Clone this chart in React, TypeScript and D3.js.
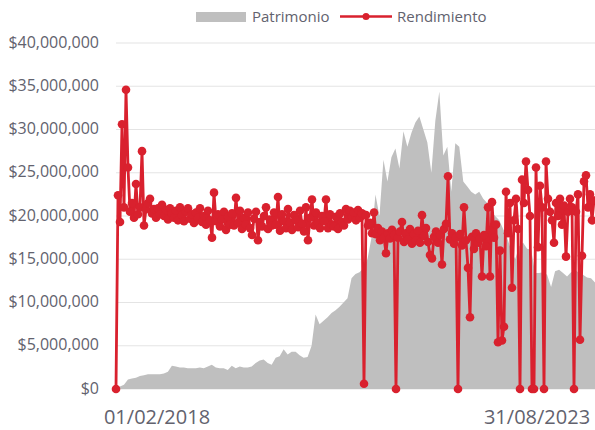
import React from 'react';
import * as d3 from 'd3';

const width = 595;
const height = 430;
const margin = { top: 43, right: 0, bottom: 41, left: 116 };
const red = '#d9212e';
const gray = '#bfbfbf';
const textColor = '#62626e';

// first / last dates of the series (category axis shows only these)
const dateLabels = ['01/02/2018', '31/08/2023'];
const yTicks = [0, 5, 10, 15, 20, 25, 30, 35, 40];

// Patrimonio, millions, evenly spaced samples
const patrimonio = [
  0.2, 0.3, 0.5, 1.1, 1.2, 1.3, 1.5, 1.6, 1.7, 1.7,
  1.7, 1.7, 1.8, 2.0, 2.7, 2.6, 2.5, 2.5, 2.4, 2.4,
  2.4, 2.5, 2.4, 2.6, 2.8, 2.5, 2.4, 2.4, 2.2, 2.7,
  2.4, 2.6, 2.5, 2.5, 2.6, 3.0, 3.3, 3.4, 3.0, 2.8,
  3.6, 3.8, 4.6, 4.0, 4.3, 4.3, 3.9, 3.6, 3.7, 5.0,
  8.6, 7.5, 7.9, 8.3, 8.8, 9.1, 9.5, 10.0, 10.5, 12.8,
  13.3, 13.5, 14.0, 15.0, 17.5, 22.5, 20.0, 26.5, 24.0, 26.8,
  27.8, 25.5, 29.8, 28.0, 29.6, 30.8, 31.5, 30.0, 28.5, 25.0,
  31.0, 34.4, 27.0, 28.0, 22.8, 28.4, 28.0, 24.0, 23.4, 22.8,
  22.5, 22.8, 22.0, 21.5, 20.5, 20.0, 19.5, 18.5, 17.5, 16.0,
  15.0, 16.5, 16.9, 16.2, 16.1, 13.4, 13.4, 13.5, 13.2, 11.8,
  13.6, 13.8, 13.4, 13.0, 13.5, 13.8, 13.4, 13.2, 12.9, 12.8,
  12.3,
];

// Rendimiento, drawn on the same scale, evenly spaced samples
const rendimiento = [
  0, 22.4, 19.3, 30.6, 21.0, 34.6, 25.6, 20.5, 21.5, 19.8,
  23.7, 20.2, 21.0, 27.5, 18.9, 20.8, 21.5, 22.0, 20.3, 20.8,
  19.8, 20.9, 20.2, 21.3, 20.0, 20.7, 19.6, 20.9, 20.3, 19.8,
  20.6, 19.5, 21.0, 20.1, 19.4, 20.5, 20.9, 19.7, 20.2, 19.2,
  20.4, 19.8, 20.9, 19.3, 20.0, 19.0, 20.6, 19.5, 17.5, 22.7,
  19.4, 20.2, 18.8, 19.6, 20.5, 18.4, 19.9, 19.0, 20.3, 18.9,
  22.1, 19.2, 20.6, 18.5, 19.8, 19.0, 20.4, 18.6, 17.8, 19.7,
  20.5, 17.2, 19.3, 18.8, 20.0, 21.0, 18.5, 19.6, 18.9, 20.4,
  19.0, 22.2, 18.3, 20.2, 19.4, 18.6, 20.8, 19.2, 18.4, 20.1,
  19.5, 18.7, 20.6, 19.1, 18.2, 21.0, 17.2, 19.8, 21.9, 18.9,
  20.4, 19.2, 18.6, 20.0, 19.4, 21.9, 18.6, 20.2, 19.0, 18.8,
  19.9, 18.5, 20.3, 19.3, 18.9, 20.8, 19.6, 20.6, 19.9, 20.4,
  19.5, 20.7, 19.8, 20.3, 0.6, 20.1, 18.9, 19.2, 18.0, 20.4,
  17.9, 18.6, 17.2, 18.2, 17.5, 15.7, 18.0, 17.4, 18.4, 17.8,
  0, 17.5, 18.2, 19.3, 17.0, 18.0, 17.3, 18.5, 16.8, 17.9,
  17.2, 18.3, 16.9, 20.1, 17.7, 18.6, 17.0, 15.5, 15.1, 17.6,
  18.2, 16.9, 17.8, 14.4, 18.5, 19.1, 24.6, 17.3, 18.0, 16.8,
  17.5, 0, 17.9, 16.6, 21.0, 17.2, 14.0, 8.3, 17.6, 16.2,
  18.0, 16.9, 17.4, 13.0, 17.8, 16.5, 21.0, 13.0, 21.6, 17.5,
  19.0, 5.4, 16.0, 5.6, 7.2, 22.8, 18.0, 21.5, 11.7, 19.5,
  22.0, 18.5, 0, 24.2, 21.5, 26.3, 23.0, 20.0, 0, 0,
  25.6, 16.4, 23.5, 21.0, 0, 26.3, 22.0, 20.5, 19.5, 16.9,
  21.5, 20.0, 22.0, 19.0, 21.2, 15.3, 20.5, 22.0, 21.0, 0,
  20.5, 22.5, 5.7, 15.4, 24.0, 24.7, 21.0, 22.5, 19.5, 21.8,
];

const fmt = (v: number) => '$' + d3.format(',')(v * 1000000);

export default function App() {
  const y = d3.scaleLinear().domain([0, 40]).range([height - margin.bottom, margin.top]);
  const xP = d3.scaleLinear().domain([0, patrimonio.length - 1]).range([margin.left, width - margin.right]);
  const xR = d3.scaleLinear().domain([0, rendimiento.length - 1]).range([margin.left, width - margin.right - 1]);

  // jagged columns, close to how the dense daily bars look
  const area = d3.area<number>()
    .x((_, i) => xP(i))
    .y0(y(0))
    .y1((d) => y(d));
  const line = d3.line<number>()
    .x((_, i) => xR(i))
    .y((d) => y(d));

  const font = "'Open Sans', sans-serif";

  return (
    <svg width={width} height={height} style={{ position: 'absolute', left: 0, top: 0 }} fontFamily={font}>
      {yTicks.map((t) => (
        <g key={t}>
          <line x1={margin.left} x2={width} y1={y(t)} y2={y(t)} stroke="#e4e4e4" strokeWidth={1.2} />
          <text x={99} y={y(t) + 4.5} textAnchor="end" fontSize={16} fill={textColor}>{fmt(t)}</text>
        </g>
      ))}
      <path d={area(patrimonio) || ''} fill={gray} />
      <path d={line(rendimiento) || ''} fill="none" stroke={red} strokeWidth={2.8} strokeLinejoin="round" />
      {rendimiento.map((d, i) => (
        <circle key={i} cx={xR(i)} cy={y(d)} r={4.3} fill={red} />
      ))}
      <text x={157} y={424} textAnchor="middle" fontSize={20} fill={textColor}>{dateLabels[0]}</text>
      <text x={537} y={424} textAnchor="middle" fontSize={20} fill={textColor}>{dateLabels[1]}</text>
      {/* legend */}
      <rect x={196} y={12} width={50} height={10} fill={gray} />
      <text x={252} y={22} fontSize={15} fill={textColor}>Patrimonio</text>
      <line x1={340} x2={392} y1={16.5} y2={16.5} stroke={red} strokeWidth={2.5} />
      <circle cx={366} cy={16.5} r={3.5} fill={red} />
      <text x={397} y={22} fontSize={15} fill={textColor}>Rendimiento</text>
    </svg>
  );
}
